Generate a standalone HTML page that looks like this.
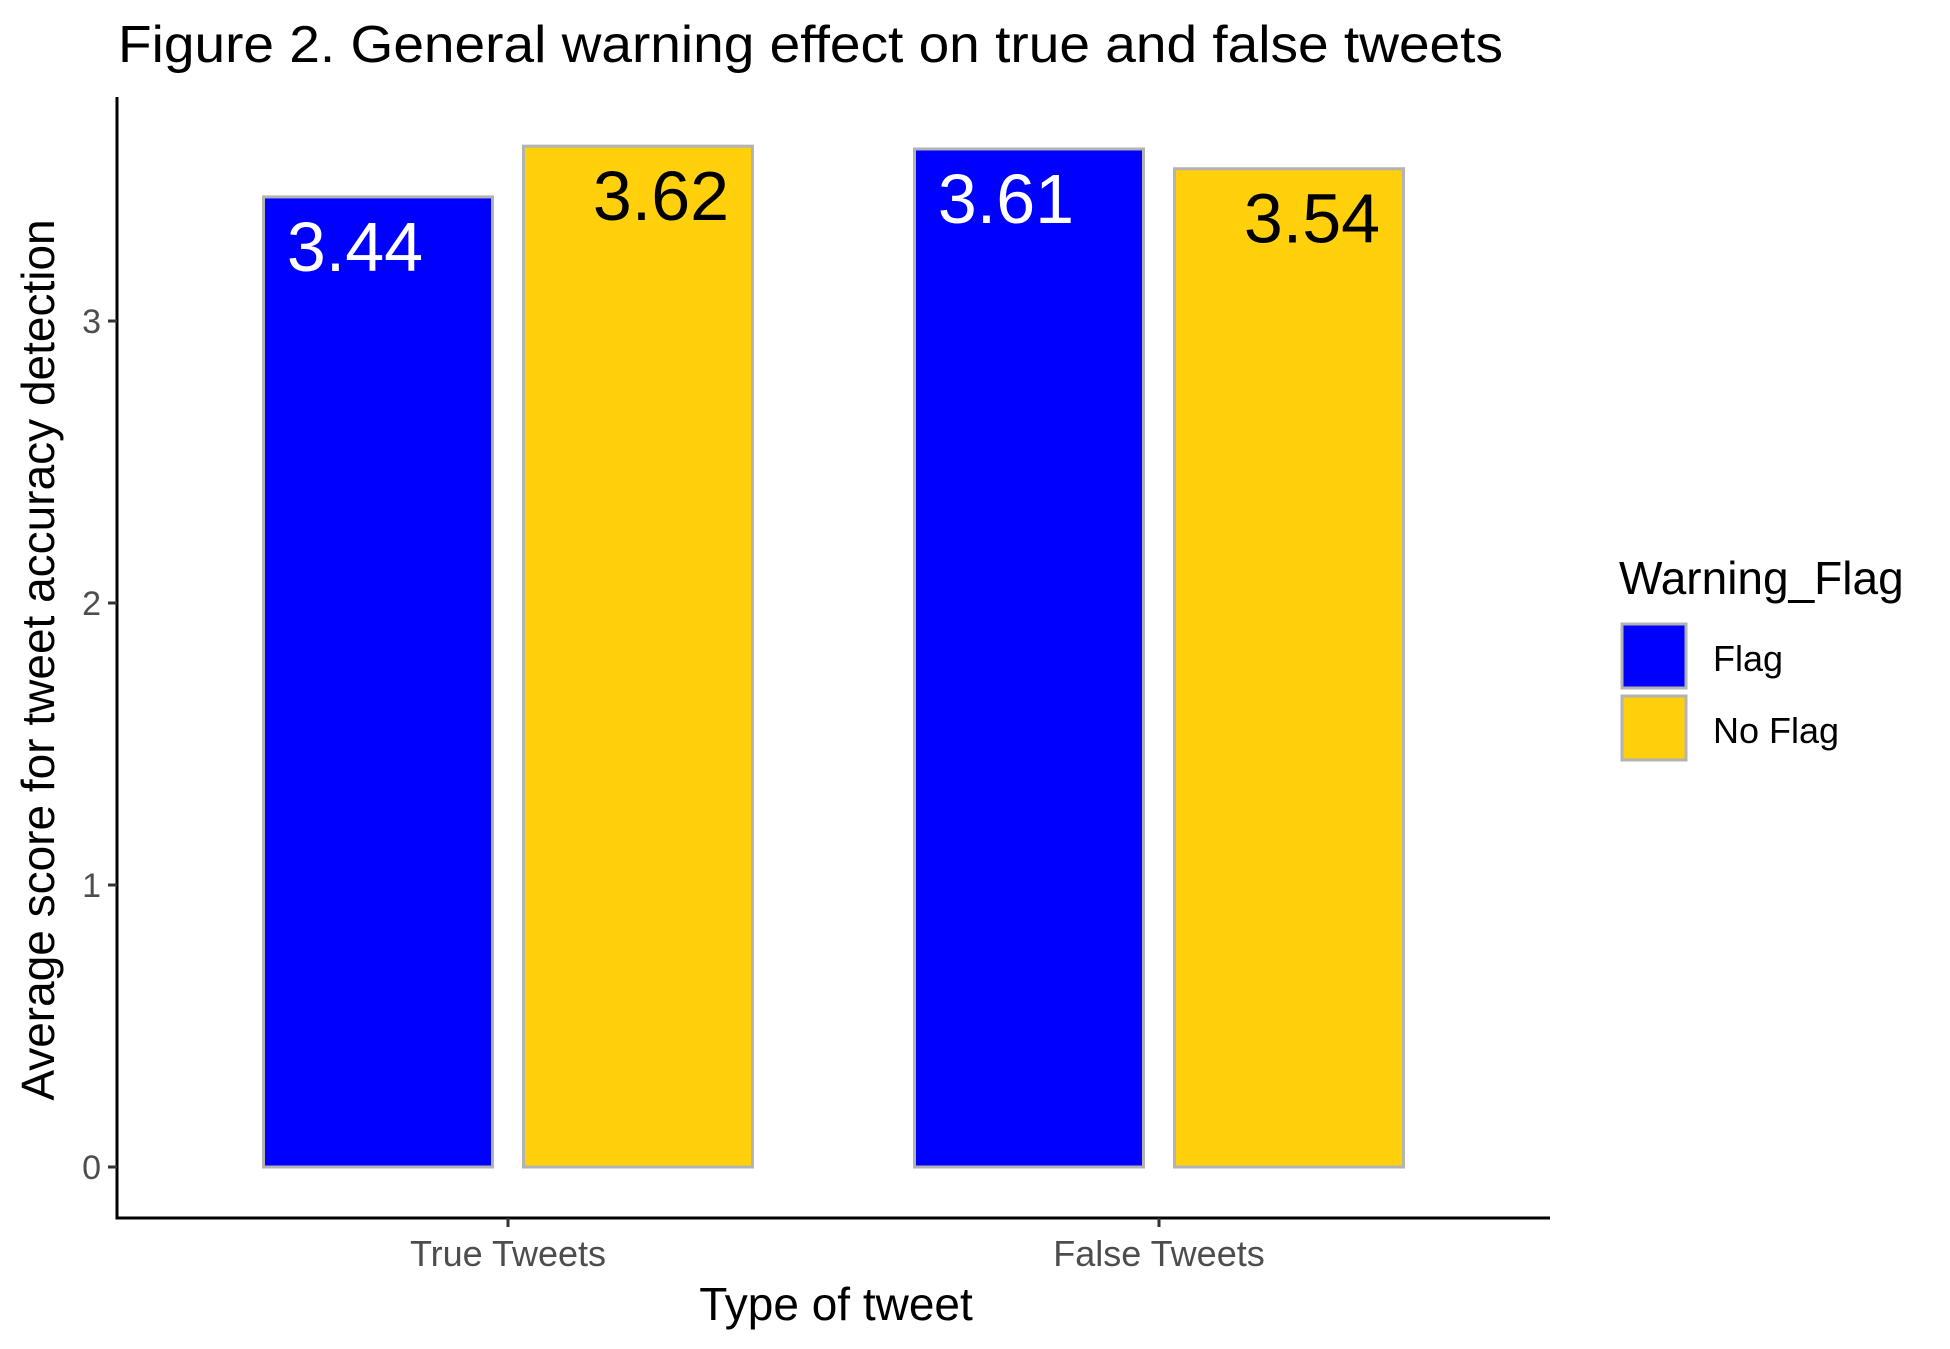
<!DOCTYPE html>
<html><head><meta charset="utf-8"><style>body{margin:0;background:#fff}svg{display:block;font-family:"Liberation Sans",Arial,sans-serif}</style></head>
<body>
<svg id="chart" width="1950" height="1349" viewBox="0 0 1950 1349" xmlns="http://www.w3.org/2000/svg">
<text x="118" y="62" font-size="52" textLength="1385" lengthAdjust="spacingAndGlyphs" fill="#000">Figure 2. General warning effect on true and false tweets</text>
<g id="plot"></g>
<text x="836" y="1320" font-size="46" text-anchor="middle" fill="#000">Type of tweet</text>
<text transform="translate(54,660) rotate(-90)" font-size="46" text-anchor="middle" fill="#000">Average score for tweet accuracy detection</text>
<text x="1619" y="594" font-size="46" fill="#000">Warning_Flag</text>
<g>
<rect x="1631" y="624" width="64" height="64" fill="#0000ff" stroke="#b3b3b3" stroke-width="3" transform="translate(-9,0)"/>
<text x="1713" y="671" font-size="36" fill="#000">Flag</text></g>
<g>
<rect x="1622" y="696" width="64" height="64" fill="#ffd00b" stroke="#b3b3b3" stroke-width="3"/>
<text x="1713" y="743" font-size="36" fill="#000">No Flag</text></g>
</svg>
<script>
const categories = ["True Tweets", "False Tweets"];
const flagValues = [3.44, 3.61];
const noFlagValues = [3.62, 3.54];
const yTicks = [0, 1, 2, 3];

const NS = "http://www.w3.org/2000/svg";
const g = document.getElementById("plot");
const x0 = 117, x1 = 1550, yBase = 1167, yTop = 97, axisY = 1218;
const unit = 282;
function yScale(v){ return yBase - v * unit; }
const catCenters = [508, 1159];
function xCat(i){ return catCenters[0] + i * (catCenters[1] - catCenters[0]); }
const barW = 229, gap = 31;
function mk(tag, attrs){ const e = document.createElementNS(NS, tag); for (const k in attrs) e.setAttribute(k, attrs[k]); g.appendChild(e); return e; }

let ax = mk("line", {x1: x0, y1: yTop, x2: x0, y2: axisY + 1.5, stroke: "#000", "stroke-width": 3});


ax = mk("line", {x1: x0 - 1.5, y1: axisY, x2: x1, y2: axisY, stroke: "#000", "stroke-width": 3});



yTicks.forEach(t => {
  const y = yScale(t);
  const tk = mk("line", {x1: x0 - 9, y1: y, x2: x0, y2: y, stroke: "#333", "stroke-width": 3});
  
  
  const tl = mk("text", {x: x0 - 16, y: y + 12, "font-size": 34, "text-anchor": "end", fill: "#4d4d4d"});
  tl.textContent = t;
  
  
});

categories.forEach((c, i) => {
  const cx = xCat(i);
  const tk = mk("line", {x1: cx, y1: axisY, x2: cx, y2: axisY + 9, stroke: "#333", "stroke-width": 3});
  
  
  const tl = mk("text", {x: cx, y: axisY + 48, "font-size": 36, "text-anchor": "middle", fill: "#4d4d4d"});
  tl.textContent = c;
  
  

  const series = [[flagValues[i], "#0000ff", "#fff", -1, "flag"], [noFlagValues[i], "#ffd00b", "#000", 1, "no-flag"]];
  series.forEach(([v, fill, tc, side, nm]) => {
    const bc = cx + side * (barW / 2 + gap / 2);
    const r = mk("rect", {x: bc - barW / 2, y: yScale(v), width: barW, height: yBase - yScale(v), fill: fill, stroke: "#b3b3b3", "stroke-width": 3});
    
    
    const lab = mk("text", {x: bc + side * 23, y: yScale(v) + 74, "font-size": 70, "text-anchor": "middle", fill: tc});
    lab.textContent = v.toFixed(2);
    
    
  });
});
</script>
</body></html>
